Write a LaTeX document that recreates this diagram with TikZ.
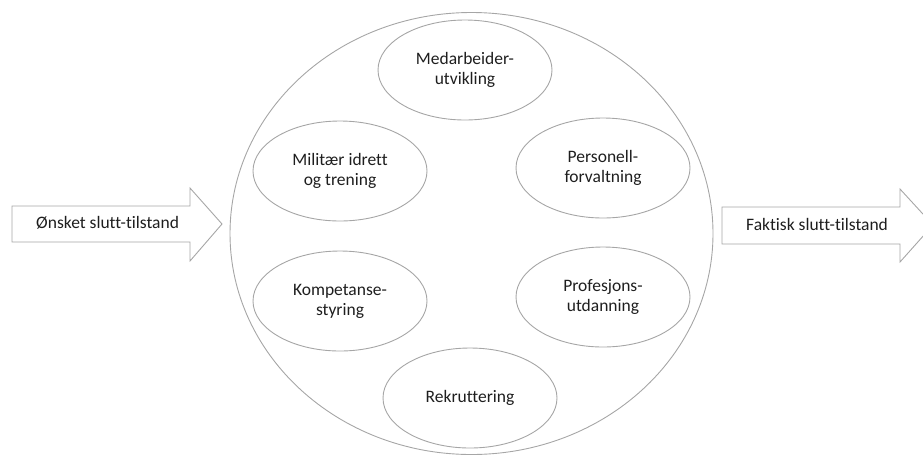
\documentclass[tikz,border=0pt]{standalone}
\usepackage{fontspec}
\setmainfont{Carlito}[Ligatures=NoCommon]
\usetikzlibrary{shapes.geometric}
\definecolor{edge}{HTML}{A6A6A6}
\definecolor{txt}{HTML}{1E1E1E}
\begin{document}
\begin{tikzpicture}[x=1pt,y=-1pt,
  outline/.style={draw=edge,line width=0.9pt},
  topic/.style={outline,ellipse,minimum width=174pt,minimum height=100pt,inner sep=0pt,align=center,
    font=\fontsize{17.5}{20}\selectfont,text=txt},
  lbl/.style={font=\fontsize{17.5}{20}\selectfont,text=txt,inner sep=0pt}]
\useasboundingbox (0,0) rectangle (923,456);
% big circle
\node[outline,ellipse,minimum width=483pt,minimum height=442pt,inner sep=0pt] (ring) at (471.5,233.5) {};
% topics
\node[topic] (med) at (465,70) {Medarbeider-\\utvikling};
\node[topic] (mil) at (340,171) {Militær idrett\\og trening};
\node[topic] (per) at (603,168) {Personell-\\forvaltning};
\node[topic] (kom) at (340,301) {Kompetanse-\\styring};
\node[topic] (pro) at (603,297) {Profesjons-\\utdanning};
\node[topic] (rek) at (470,398) {Rekruttering};
% left arrow
\draw[outline,fill=white] (12,206) -- (190,206) -- (190,188) -- (222,224) -- (190,261) -- (190,242) -- (12,242) -- cycle;
\node[lbl,anchor=west] (want) at (36,223) {Ønsket slutt-tilstand};
% right arrow
\draw[outline,fill=white] (722,207) -- (900,207) -- (900,189) -- (933,225) -- (900,262) -- (900,244) -- (722,244) -- cycle;
\node[lbl,anchor=west] (fact) at (746,224) {Faktisk slutt-tilstand};
\end{tikzpicture}
\end{document}
